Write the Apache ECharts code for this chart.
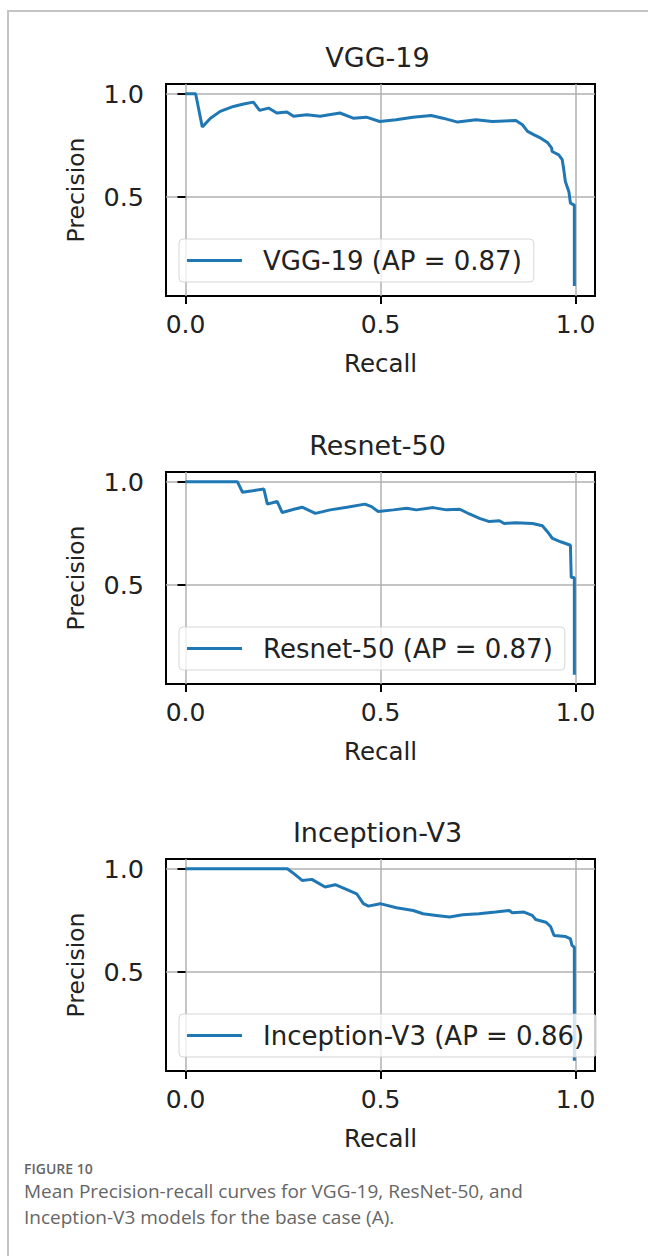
<!DOCTYPE html>
<html><head><meta charset="utf-8">
<script src="https://cdn.jsdelivr.net/npm/echarts@6/dist/echarts.min.js"></script>
<style>html,body{margin:0;padding:0;background:#fff;}#c{width:648px;height:1256px;}</style>
</head><body><div id="c"></div>
<script>
// ---- data ----
const titles = ['VGG-19', 'Resnet-50', 'Inception-V3'];
const legendNames = ['VGG-19 (AP = 0.87)', 'Resnet-50 (AP = 0.87)', 'Inception-V3 (AP = 0.86)'];
const xTickValues = [0, 0.5, 1.0];
const yTickValues = [0.5, 1.0];

const vggRecall = [0, 0.026, 0.043, 0.064, 0.089, 0.123, 0.149, 0.174, 0.190, 0.213, 0.234, 0.260, 0.277, 0.311, 0.345, 0.396, 0.430, 0.464, 0.498, 0.540, 0.583, 0.630, 0.660, 0.698, 0.745, 0.787, 0.847, 0.864, 0.877, 0.894, 0.911, 0.928, 0.939, 0.940, 0.957, 0.966, 0.970, 0.974, 0.983, 0.987, 0.997, 0.997];
const vggPrecision = [1.0, 1.0, 0.838, 0.881, 0.914, 0.938, 0.950, 0.959, 0.919, 0.930, 0.906, 0.911, 0.890, 0.898, 0.890, 0.906, 0.881, 0.886, 0.865, 0.873, 0.885, 0.894, 0.881, 0.862, 0.873, 0.865, 0.870, 0.849, 0.817, 0.800, 0.784, 0.763, 0.735, 0.719, 0.703, 0.679, 0.630, 0.573, 0.524, 0.468, 0.459, 0.065];

const resRecall = [0, 0.133, 0.146, 0.172, 0.201, 0.210, 0.235, 0.248, 0.278, 0.299, 0.333, 0.371, 0.414, 0.460, 0.477, 0.494, 0.533, 0.567, 0.592, 0.635, 0.669, 0.703, 0.728, 0.754, 0.779, 0.805, 0.817, 0.847, 0.890, 0.915, 0.928, 0.941, 0.962, 0.987, 0.989, 0.997, 0.997];
const resPrecision = [1.0, 1.0, 0.949, 0.956, 0.964, 0.891, 0.904, 0.850, 0.866, 0.876, 0.846, 0.863, 0.876, 0.891, 0.879, 0.855, 0.863, 0.871, 0.863, 0.874, 0.863, 0.866, 0.843, 0.822, 0.806, 0.810, 0.797, 0.801, 0.797, 0.786, 0.757, 0.724, 0.708, 0.691, 0.536, 0.533, 0.062];

const incRecall = [0, 0.261, 0.278, 0.299, 0.324, 0.358, 0.384, 0.414, 0.439, 0.456, 0.469, 0.499, 0.541, 0.584, 0.609, 0.643, 0.677, 0.711, 0.752, 0.795, 0.830, 0.838, 0.868, 0.889, 0.898, 0.924, 0.936, 0.945, 0.975, 0.987, 0.991, 0.997, 0.997];
const incPrecision = [1.0, 1.0, 0.976, 0.943, 0.948, 0.911, 0.922, 0.898, 0.878, 0.830, 0.818, 0.830, 0.810, 0.797, 0.781, 0.773, 0.765, 0.776, 0.781, 0.789, 0.797, 0.786, 0.789, 0.773, 0.753, 0.740, 0.719, 0.675, 0.670, 0.659, 0.627, 0.618, 0.067];

const captionLabel = 'FIGURE 10';
const captionLines = ['Mean Precision-recall curves for VGG-19, ResNet-50, and', 'Inception-V3 models for the base case (A).'];

// ---- layout ----
const recalls = [vggRecall, resRecall, incRecall];
const precisions = [vggPrecision, resPrecision, incPrecision];
const frameLeft = 166, frameWidth = 429, frameHeight = 212;
const frameTops = [84, 472, 859];
const FONT = "'DejaVu Sans', sans-serif";
const CAPFONT = "'Open Sans', sans-serif";
const BLUE = '#1f77b4';

const grids = [], xAxes = [], yAxes = [], series = [], legends = [], graphics = [];
frameTops.forEach((top, i) => {
  grids.push({left: frameLeft, top: top, width: frameWidth, height: frameHeight,
    show: true, borderColor: '#000', borderWidth: 2, backgroundColor: 'transparent', containLabel: false});
  xAxes.push({type: 'value', gridIndex: i, min: -0.05, max: 1.05,
    name: 'Recall', nameLocation: 'middle', nameGap: 55,
    nameTextStyle: {fontFamily: FONT, fontSize: 24.5, color: '#222'},
    axisLine: {show: false},
    axisTick: {show: true, customValues: xTickValues, length: 8, lineStyle: {color: '#000', width: 2}},
    axisLabel: {customValues: xTickValues, margin: 16, fontFamily: FONT, fontSize: 25, color: '#222',
      formatter: v => v.toFixed(1)},
    splitLine: {show: true, lineStyle: {color: '#b0b0b0', width: 1.5}}
  });
  yAxes.push({type: 'value', gridIndex: i, min: 0.017, max: 1.047,
    name: 'Precision', nameLocation: 'middle', nameGap: 78,
    nameTextStyle: {fontFamily: FONT, fontSize: 23.5, color: '#222'},
    axisLine: {show: false},
    axisTick: {show: true, customValues: yTickValues, length: 8, lineStyle: {color: '#000', width: 2}},
    axisLabel: {customValues: yTickValues, margin: 22, fontFamily: FONT, fontSize: 25.5, color: '#222',
      formatter: v => v.toFixed(1)},
    splitLine: {show: true, lineStyle: {color: '#b0b0b0', width: 1.5}}
  });
  series.push({type: 'line', name: legendNames[i], xAxisIndex: i, yAxisIndex: i,
    data: recalls[i].map((r, k) => [r, precisions[i][k]]),
    symbol: 'none', showSymbol: false, color: BLUE, clip: true, silent: true,
    lineStyle: {color: BLUE, width: 3}, itemStyle: {color: BLUE}});
  legends.push({data: [{name: legendNames[i], icon: 'rect'}], left: 179, top: top + 155,
    orient: 'horizontal', itemWidth: 55, itemHeight: 3, selectedMode: false,
    backgroundColor: 'rgba(255,255,255,0.8)', borderColor: 'rgba(204,204,204,0.8)', borderWidth: 1, borderRadius: 4,
    padding: [6, 12, 6, 8],
    textStyle: {fontFamily: FONT, fontSize: 26, color: '#222', padding: [0, 0, 0, 16], lineHeight: 31}});
  graphics.push({type: 'text', x: frameLeft + frameWidth / 2 - 3, y: top - 26.5, silent: true,
    style: {text: titles[i], fontFamily: FONT, fontSize: 27, fill: '#222', align: 'center', verticalAlign: 'middle'}});
});

graphics.push({type: 'line', silent: true, shape: {x1: 7, y1: 11, x2: 648, y2: 11}, style: {stroke: '#c4c4c4', lineWidth: 2}});
graphics.push({type: 'line', silent: true, shape: {x1: 8, y1: 10, x2: 8, y2: 1256}, style: {stroke: '#c4c4c4', lineWidth: 2}});
graphics.push({type: 'text', x: 24, y: 1168, silent: true,
  style: {text: captionLabel, fontFamily: CAPFONT, fontWeight: 600, fontSize: 14, fill: '#666', verticalAlign: 'middle'}});
captionLines.forEach((t, k) => {
  graphics.push({type: 'text', x: 24, y: 1191 + k * 26, silent: true,
    style: {text: t, fontFamily: CAPFONT, fontSize: 19, lineHeight: 24, fill: '#666', verticalAlign: 'middle'}});
});

const chart = echarts.init(document.getElementById('c'), null, {renderer: 'svg', width: 648, height: 1256});
chart.setOption({
  backgroundColor: '#fff',
  animation: false,
  grid: grids, xAxis: xAxes, yAxis: yAxes, series: series, legend: legends, graphic: graphics
});
</script></body></html>
